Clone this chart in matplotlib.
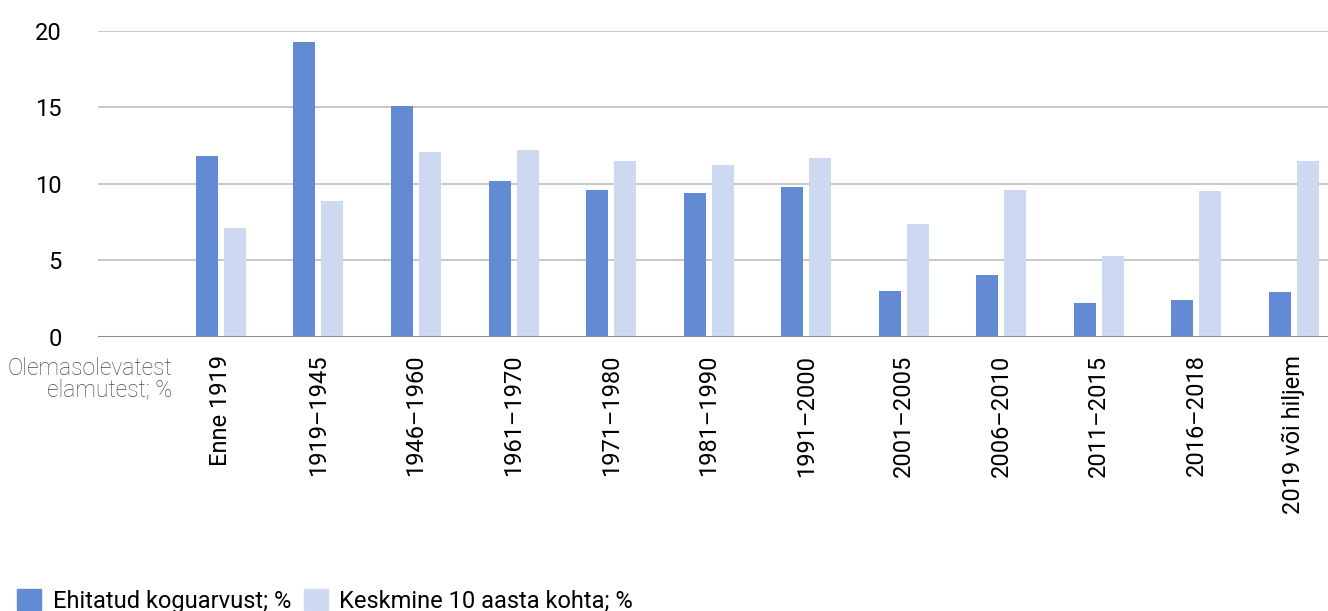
import matplotlib.pyplot as plt
from matplotlib.patches import Patch
import numpy as np

plt.rcParams["font.family"] = ["Roboto", "DejaVu Sans"]

categories = ["Enne 1919", "1919\u20131945", "1946\u20131960", "1961\u20131970",
              "1971\u20131980", "1981\u20131990", "1991\u20132000", "2001\u20132005",
              "2006\u20132010", "2011\u20132015", "2016\u20132018", "2019 või hiljem"]
built = [11.8, 19.3, 15.1, 10.2, 9.6, 9.4, 9.8, 3.0, 4.0, 2.2, 2.4, 2.9]
avg10 = [7.1, 8.9, 12.1, 12.2, 11.5, 11.2, 11.7, 7.35, 9.6, 5.3, 9.5, 11.5]
label_built = "Ehitatud koguarvust; %"
label_avg = "Keskmine 10 aasta kohta; %"

dark = "#628bd4"
light = "#cdd9f0"

fig = plt.figure(figsize=(13.28, 6.11), dpi=100)
ax = fig.add_axes([98 / 1328, 1 - 336.5 / 611, 1 - 98 / 1328, 305.5 / 611])

x = np.arange(len(categories))
w = 0.2256
off = 0.1436
ax.bar(x - off, built, width=w, color=dark, zorder=3)
ax.bar(x + off, avg10, width=w, color=light, zorder=3)

ax.set_xlim(-1.26, 11.35)
ax.set_ylim(0, 20)
ax.set_yticks([0, 5, 10, 15, 20])
ax.yaxis.grid(True, color="#bdbdbd", linewidth=1.2, zorder=0)
ax.axhline(0, color="#8c8c8c", linewidth=1.5, zorder=4)
for s in ax.spines.values():
    s.set_visible(False)
ax.tick_params(axis="both", length=0, labelsize=17)
ax.tick_params(axis="y", pad=26)
ax.set_xticks(x)
ax.set_xticklabels(categories, rotation=90, ha="center", va="top")
ax.tick_params(axis="x", pad=13)

fig.text(172 / 1328, 1 - 357 / 611, "Olemasolevatest\nelamutest; %", ha="right", va="top",
         fontsize=16.5, color="#4a4a4a", fontweight="light", linespacing=0.92)

handles = [Patch(color=dark, label=label_built), Patch(color=light, label=label_avg)]
fig.legend(handles=handles, loc="lower left", bbox_to_anchor=(-0.003, -0.038), ncol=2,
           frameon=False, fontsize=17, handlelength=1.0, handleheight=1.0,
           handletextpad=0.5, columnspacing=0.55)

fig.savefig("out.png", dpi=100)
